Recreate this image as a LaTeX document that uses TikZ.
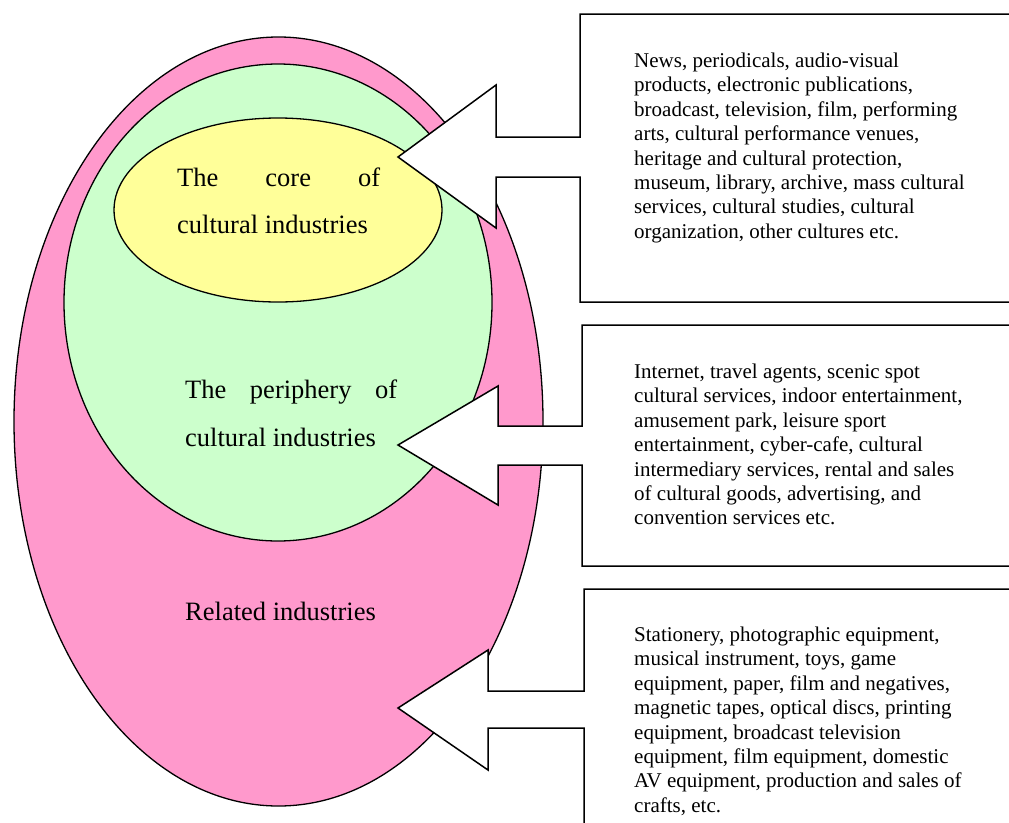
\documentclass[tikz,border=0pt]{standalone}
\usepackage{fontspec}
\setmainfont{Liberation Serif}
\definecolor{rosepink}{HTML}{FF99CC}
\definecolor{palegreen}{HTML}{CCFFCC}
\definecolor{paleyellow}{HTML}{FFFF99}
\begin{document}
\begin{tikzpicture}[x=1pt, y=-1pt,
  ring/.style={draw=black, line width=1.3pt},
  callout/.style={draw=black, fill=white, line width=1.5pt, line join=miter},
  ringtext/.style={anchor=base west, inner sep=0pt, font=\fontsize{26.5}{47}\selectfont},
  listtext/.style={anchor=north west, inner sep=0pt, align=left, font=\fontsize{21}{24.4}\selectfont}]
\clip (0,0) rectangle (1009,822);
% the three rings
\draw[ring, fill=rosepink] (278.5,421.5) ellipse (264.5 and 384.5);
\draw[ring, fill=palegreen] (278,302.5) ellipse (214 and 238.5);
\draw[ring, fill=paleyellow] (278,210) ellipse (164 and 92);
\node[ringtext] (core1) at (177,186) {\hbox to 203pt{The\hfill core\hfill of}};
\node[ringtext] (core2) at (177,233) {cultural industries};
\node[ringtext] (peri1) at (185,398) {\hbox to 212pt{The\hfill periphery\hfill of}};
\node[ringtext] (peri2) at (185,446) {cultural industries};
\node[ringtext] (rel) at (185,620) {Related industries};
% callout boxes
\draw[callout] (580,14) -- (1020,14) -- (1020,302) -- (580,302) -- (580,177) -- (496,177) -- (496,228)
  -- (398,157) -- (496,85) -- (496,137) -- (580,137) -- cycle;
\draw[callout] (582,325) -- (1020,325) -- (1020,566) -- (582,566) -- (582,465) -- (498,465) -- (498,505)
  -- (398,445) -- (498,386) -- (498,426) -- (582,426) -- cycle;
\draw[callout] (584,589) -- (1020,589) -- (1020,830) -- (584,830) -- (584,728) -- (488,728) -- (488,770)
  -- (398,708) -- (488,650) -- (488,691) -- (584,691) -- cycle;
\node[listtext] (coretext) at (634,52.7) {News, periodicals, audio-visual\\
  products, electronic publications,\\
  broadcast, television, film, performing\\
  arts, cultural performance venues,\\
  heritage and cultural protection,\\
  museum, library, archive, mass cultural\\
  services, cultural studies, cultural\\
  organization, other cultures etc.};
\node[listtext] (peritext) at (634,363.7) {Internet, travel agents, scenic spot\\
  cultural services, indoor entertainment,\\
  amusement park, leisure sport\\
  entertainment, cyber-cafe, cultural\\
  intermediary services, rental and sales\\
  of cultural goods, advertising, and\\
  convention services etc.};
\node[listtext] (reltext) at (634,626.7) {Stationery, photographic equipment,\\
  musical instrument, toys, game\\
  equipment, paper, film and negatives,\\
  magnetic tapes, optical discs, printing\\
  equipment, broadcast television\\
  equipment, film equipment, domestic\\
  AV equipment, production and sales of\\
  crafts, etc.};
\end{tikzpicture}
\end{document}
